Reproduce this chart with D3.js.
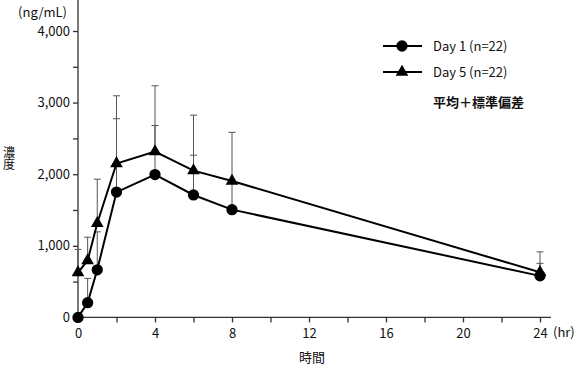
<!DOCTYPE html>
<html><head><meta charset="utf-8">
<script src="https://cdn.jsdelivr.net/npm/d3@7"></script>
<style>body{margin:0;background:#fff}svg{display:block}text{font-family:"Noto Sans CJK JP","Noto Sans",sans-serif;fill:#111}</style>
</head><body>
<svg id="c" width="574" height="368"></svg>
<script>
const times = [0, 0.5, 1, 2, 4, 6, 8, 24];
const day1Mean = [0, 205, 665, 1750, 1995, 1710, 1505, 580];
const day1Upper = [null, 545, 1195, 2775, 2680, 2265, 1890, 755];
const day5Mean = [625, 795, 1315, 2150, 2315, 2050, 1905, 630];
const day5Upper = [950, 1120, 1930, 3095, 3235, 2825, 2585, 915];
const xTicks = [0, 2, 4, 6, 8, 10, 12, 14, 16, 18, 20, 22, 24];
const xLabels = [0, 4, 8, 12, 16, 20, 24];
const yTicks = [0, 500, 1000, 1500, 2000, 2500, 3000, 3500, 4000];
const yLabels = [0, 1000, 2000, 3000, 4000];
const legendLabels = ["Day 1 (n=22)", "Day 5 (n=22)"];

const svg = d3.select("#c");
const x = d3.scaleLinear().domain([0, 24]).range([78, 540]);
const y = d3.scaleLinear().domain([0, 4000]).range([317.4, 31]);
const fmt = d3.format(",");

// axes
const xa = svg.append("g").attr("transform", "translate(0,317.4)")
  .call(d3.axisBottom(x).tickValues(xTicks).tickSize(5).tickSizeOuter(0)
    .tickFormat(d => xLabels.includes(d) ? d : ""));
xa.select(".domain").attr("d", `M${x(0)},0H551`);
const ya = svg.append("g").attr("transform", "translate(78,0)")
  .call(d3.axisLeft(y).tickValues(yTicks).tickSize(5).tickSizeOuter(0)
    .tickFormat(d => yLabels.includes(d) ? fmt(d) : ""));
ya.select(".domain").attr("d", `M0,${y(0)}V0`);
svg.selectAll(".tick line, .domain").attr("stroke", "#333").attr("stroke-width", 1.3);
svg.selectAll(".tick text").style("font-size", "13px").attr("fill", "#111")
  .style("font-family", '"Noto Sans CJK JP","Noto Sans",sans-serif');
xa.selectAll(".tick text").attr("dy", "0.95em");
ya.selectAll(".tick text").attr("x", -8);

svg.append("text").attr("x", 67).attr("y", 17).attr("text-anchor", "end").style("font-size", "13px").text("(ng/mL)");
svg.append("text").attr("x", 553).attr("y", 337).style("font-size", "13px").text("(hr)");
svg.append("text").attr("x", 312).attr("y", 362).attr("text-anchor", "middle").style("font-size", "13px").text("時間");
svg.append("text").attr("x", 9).attr("y", 146)
  .style("writing-mode", "vertical-rl").style("text-orientation", "upright")
  .style("font-size", "12px").text("濃度");

// error bars
function errBars(mean, upper) {
  times.forEach((t, i) => {
    if (upper[i] == null) return;
    const g = svg.append("g").attr("stroke", "#555").attr("stroke-width", 1);
    g.append("line").attr("x1", x(t)).attr("x2", x(t)).attr("y1", y(mean[i])).attr("y2", y(upper[i]));
    g.append("line").attr("x1", x(t) - 3.5).attr("x2", x(t) + 3.5).attr("y1", y(upper[i])).attr("y2", y(upper[i]));
  });
}
errBars(day5Mean, day5Upper);
errBars(day1Mean, day1Upper);

const line = d3.line().x((d, i) => x(times[i])).y(d => y(d));
const sym = d3.symbol();
function series(mean, type, size) {
  svg.append("path").attr("d", line(mean)).attr("fill", "none").attr("stroke", "#000").attr("stroke-width", 2);
  svg.selectAll(null).data(mean).enter().append("path")
    .attr("transform", (d, i) => `translate(${x(times[i])},${y(d)})`)
    .attr("d", sym.type(type).size(size)()).attr("fill", "#000");
}
series(day5Mean, d3.symbolTriangle, 70);
series(day1Mean, d3.symbolCircle, 100);

// legend
const leg = [[d3.symbolCircle, 100, 46], [d3.symbolTriangle, 70, 72]];
leg.forEach(([tp, sz, ly], i) => {
  svg.append("line").attr("x1", 383).attr("x2", 422).attr("y1", ly).attr("y2", ly).attr("stroke", "#000").attr("stroke-width", 2);
  svg.append("path").attr("transform", `translate(402,${ly})`).attr("d", d3.symbol().type(tp).size(sz)()).attr("fill", "#000");
  svg.append("text").attr("x", 433).attr("y", ly + 4.5).style("font-size", "13px").text(legendLabels[i]);
});
svg.append("text").attr("x", 433).attr("y", 107).style("font-size", "13px").style("font-weight", "bold").text("平均＋標準偏差");
</script>
</body></html>
